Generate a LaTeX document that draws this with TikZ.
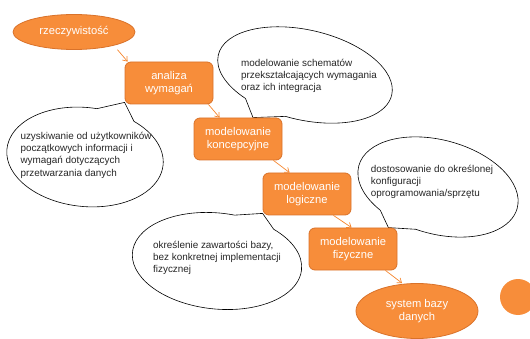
\documentclass[tikz,border=0pt]{standalone}
\usepackage{fontspec}
\setmainfont{Liberation Sans}
\usetikzlibrary{arrows.meta,positioning,shapes.geometric,shapes.callouts,backgrounds}
\definecolor{accent}{HTML}{F78D3A}
\definecolor{accentdark}{HTML}{D9722A}
\definecolor{flowline}{HTML}{F5862E}
\definecolor{ink}{HTML}{262626}

\begin{document}
\begin{tikzpicture}[x=1pt,y=-1pt,
  stage/.style={rounded corners=6pt,draw=accentdark,fill=accent,line width=0.8pt,minimum width=88pt,minimum height=42pt,text=white,align=center,font=\fontsize{11.2}{13.3}\selectfont,inner sep=2pt},
  blob/.style={ellipse,draw=accentdark,fill=accent,line width=0.8pt,minimum width=122pt,text=white,align=center,font=\fontsize{11.2}{13.3}\selectfont,inner sep=1pt},
  bubble/.style={ellipse callout,draw=black,fill=white,line width=0.6pt,callout pointer arc=30,inner sep=0pt},
  note/.style={align=left,text=ink,font=\fontsize{9.9}{12.3}\selectfont,inner sep=0pt},
  flow/.style={-{Straight Barb[length=4pt,width=6pt]},flowline,line width=0.7pt}]
  \useasboundingbox (0,0) rectangle (530,339);
  % start and end
  \node[blob,minimum height=35pt] (rzecz) at (74,32) {rzeczywistość};
  \node[blob,minimum height=55pt] (system) at (417,311) {system bazy\\danych};
  \fill[accent] (518,297) circle (18pt);
  % stages
  \foreach \n/\p/\t in {analiza/{169,83}/{analiza\\wymagań},koncepcja/{238,139}/{modelowanie\\koncepcyjne},logika/{307,194}/{modelowanie\\logiczne},fizyka/{353,249}/{modelowanie\\fizyczne}}{
    \node[stage] (\n) at (\p) {\t};
  }
  \draw[flow] ([yshift=-5pt]rzecz.south east) -- ([xshift=3pt]analiza.north west);
  \draw[flow] ([xshift=-5pt]analiza.south east) -- ([xshift=26pt]koncepcja.north west);
  \draw[flow] ([xshift=-9pt]koncepcja.south east) -- ([xshift=27pt]logika.north west);
  \draw[flow] ([xshift=-18pt]logika.south east) -- ([xshift=43pt]fizyka.north west);
  \draw[flow] ([xshift=-12pt]fizyka.south east) -- ([xshift=-15pt]system.north);
  % speech bubbles
  \begin{scope}[on background layer]
    \node[bubble,rotate=-6,minimum width=157pt,minimum height=99pt,callout absolute pointer={([yshift=2pt]analiza.south west)}] (dymekA) at (85,157) {};
    \node[bubble,rotate=-13,minimum width=178pt,minimum height=90pt,callout absolute pointer={([xshift=15pt]koncepcja.north)}] (dymekB) at (305,75) {};
    \node[bubble,rotate=-15,minimum width=164pt,minimum height=94pt,callout absolute pointer={([xshift=-9pt]fizyka.north east)}] (dymekC) at (438,187) {};
    \node[bubble,rotate=-6,minimum width=170pt,minimum height=96pt,callout absolute pointer={([yshift=2pt]logika.south west)}] (dymekD) at (217,261) {};
  \end{scope}
  \node[note] (opisA) at (86,155) {uzyskiwanie od użytkowników\\początkowych informacji i\\wymagań dotyczących\\przetwarzania danych};
  \node[note] (opisB) at (309,76) {modelowanie schematów\\przekształcających wymagania\\oraz ich integracja};
  \node[note] (opisC) at (432,182) {dostosowanie do określonej\\konfiguracji\\oprogramowania/sprzętu};
  \node[note] (opisD) at (217,258) {określenie zawartości bazy,\\bez konkretnej implementacji\\fizycznej};
\end{tikzpicture}
\end{document}
